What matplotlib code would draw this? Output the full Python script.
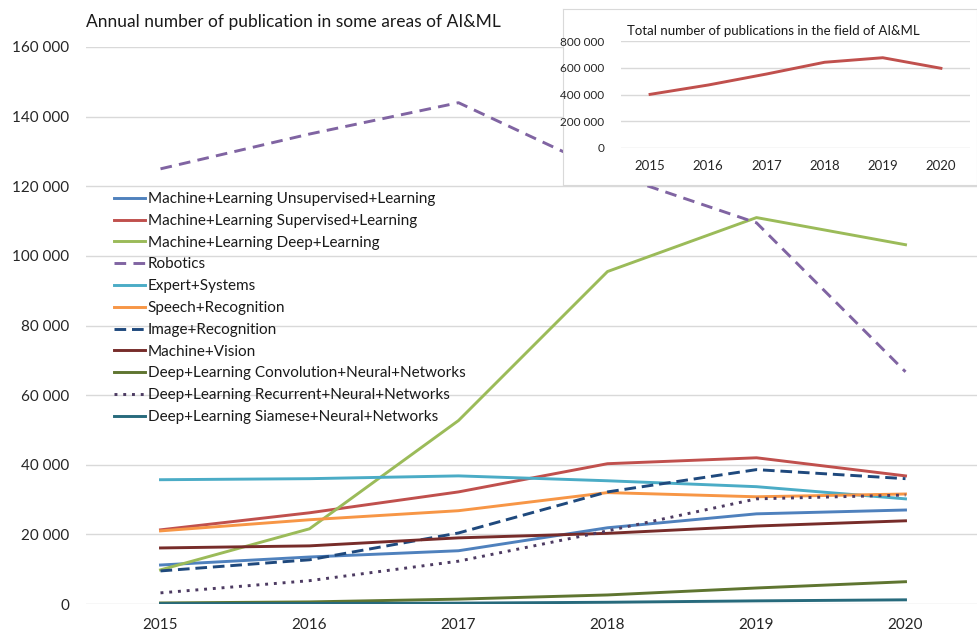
import matplotlib.pyplot as plt
import matplotlib.ticker as mticker
import numpy as np

plt.rcParams['font.family'] = ['Lato', 'DejaVu Sans']

years = ['2015', '2016', '2017', '2018', '2019', '2020']

unsupervised = [11200, 13500, 15300, 21900, 25900, 27000]
supervised = [21300, 26200, 32200, 40300, 42000, 36800]
deep_learning = [9800, 21600, 52700, 95500, 111000, 103200]
robotics = [125000, 135000, 144000, 124000, 109500, 66700]
expert_systems = [35700, 36000, 36800, 35400, 33700, 30200]
speech = [21000, 24200, 26800, 32000, 30800, 31600]
image = [9500, 12700, 20400, 32200, 38600, 36000]
machine_vision = [16100, 16700, 19000, 20300, 22400, 23900]
convolution = [300, 600, 1400, 2600, 4600, 6400]
recurrent = [3200, 6700, 12300, 21000, 30200, 31300]
siamese = [100, 150, 250, 500, 900, 1200]

total = [401000, 471000, 553000, 641000, 675000, 596000]

series = [
    ('Machine+Learning Unsupervised+Learning', unsupervised, '#4F81BD', '-'),
    ('Machine+Learning Supervised+Learning', supervised, '#C0504D', '-'),
    ('Machine+Learning Deep+Learning', deep_learning, '#9BBB59', '-'),
    ('Robotics', robotics, '#8064A2', (0, (4, 2.5))),
    ('Expert+Systems', expert_systems, '#4BACC6', '-'),
    ('Speech+Recognition', speech, '#F79646', '-'),
    ('Image+Recognition', image, '#1F497D', (0, (4, 2))),
    ('Machine+Vision', machine_vision, '#772C2A', '-'),
    ('Deep+Learning Convolution+Neural+Networks', convolution, '#5F7530', '-'),
    ('Deep+Learning Recurrent+Neural+Networks', recurrent, '#4D3B62', (0, (1, 2))),
    ('Deep+Learning Siamese+Neural+Networks', siamese, '#276A7C', '-'),
]

W, H = 977, 634
fig = plt.figure(figsize=(W / 100, H / 100), dpi=100)


def px(x0, y0, x1, y1):
    return [x0 / W, 1 - y1 / H, (x1 - x0) / W, (y1 - y0) / H]


def space_fmt(v, pos):
    return f'{int(v):,}'.replace(',', ' ')


# main chart
ax = fig.add_axes(px(86, 47, 980, 604))
x = np.arange(len(years))
for name, vals, col, ls in series:
    ax.plot(x, vals, color=col, linestyle=ls, lw=2.1, label=name)
ax.set_xlim(-0.5, 5.5)
ax.set_ylim(0, 160000)
ax.set_yticks(np.arange(0, 160001, 20000))
ax.yaxis.set_major_formatter(mticker.FuncFormatter(space_fmt))
ax.set_xticks(x)
ax.set_xticklabels(years)
ax.grid(axis='y', color='#d9d9d9', lw=1)
ax.set_axisbelow(True)
for s in ax.spines.values():
    s.set_visible(False)
ax.tick_params(length=0, labelsize=11, colors='#262626', pad=10)
ax.tick_params(axis='y', pad=12)
fig.text(86 / W, 1 - 22 / H, 'Annual number of publication in some areas of AI&ML',
         fontsize=12.5, color='#1a1a1a', va='center', ha='left')

leg = ax.legend(loc='upper left', bbox_to_anchor=((108 - 86) / 894, (604 - 186) / 557),
                frameon=False, fontsize=11, handlelength=2.0, handletextpad=0.2,
                labelspacing=0.51, borderaxespad=0)
for t in leg.get_texts():
    t.set_color('#1a1a1a')

# inset box
box = fig.add_axes(px(563, 9, 977, 185))
box.set_xticks([])
box.set_yticks([])
for s in box.spines.values():
    s.set_color('#d9d9d9')
box.set_facecolor('white')

ins = fig.add_axes(px(621, 41, 970, 148))
ins.plot(x, total, color='#C0504D', lw=2.1)
ins.set_xlim(-0.5, 5.5)
ins.set_ylim(0, 800000)
ins.set_yticks(np.arange(0, 800001, 200000))
ins.yaxis.set_major_formatter(mticker.FuncFormatter(space_fmt))
ins.set_xticks(x)
ins.set_xticklabels(years)
ins.grid(axis='y', color='#d9d9d9', lw=1)
ins.set_axisbelow(True)
ins.patch.set_alpha(0)
for s in ins.spines.values():
    s.set_visible(False)
ins.tick_params(length=0, labelsize=8.5, colors='#262626', pad=10)
ins.tick_params(axis='x', labelsize=9.5, pad=9)
ins.tick_params(axis='y', pad=12)
fig.text(627 / W, 1 - 31 / H, 'Total number of publications in the field of AI&ML',
         fontsize=9.5, color='#1a1a1a', va='center', ha='left')

fig.savefig('out.png', dpi=100)
